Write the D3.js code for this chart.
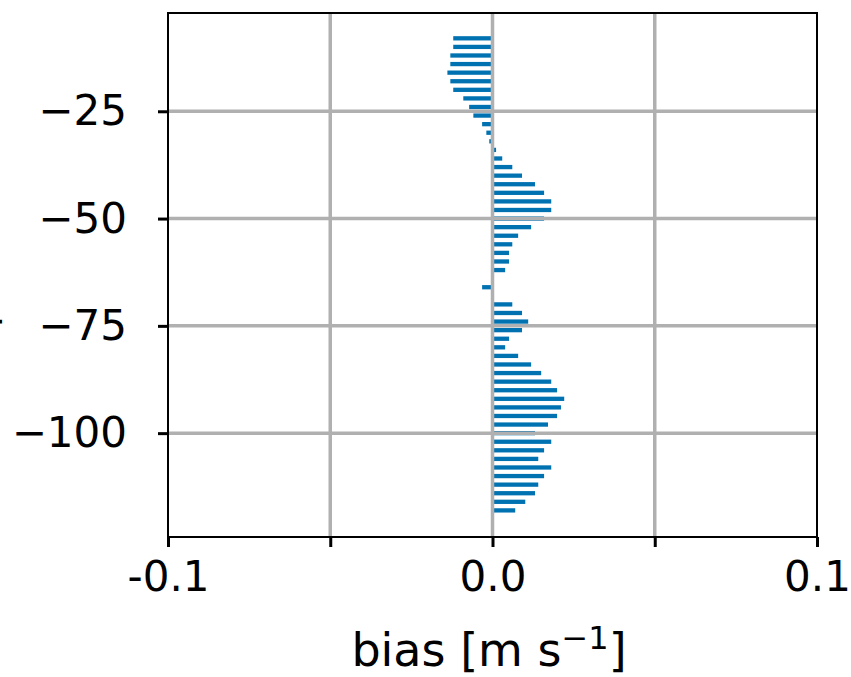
<!DOCTYPE html>
<html lang="en">
<head>
    <meta charset="UTF-8">
    <title>Bias profile</title>
    <script src="https://d3js.org/d3.v7.min.js"></script>
    <style>
        body { margin: 0; background: #fff; }
        svg { display: block; font-family: "DejaVu Sans", sans-serif; }
    </style>
</head>
<body>
    <script>
        // Data: depth levels (m) and bias (m s-1)
        const depths = [-8, -10, -12, -14, -16, -18, -20, -22, -24, -26, -28, -30, -32, -34,
            -36, -38, -40, -42, -44, -46, -48, -50, -52, -54, -56, -58, -60, -62, -64, -66,
            -68, -70, -72, -74, -76, -78, -80, -82, -84, -86, -88, -90, -92, -94, -96, -98,
            -100, -102, -104, -106, -108, -110, -112, -114, -116, -118];
        const bias = [-0.0121, -0.0121, -0.0130, -0.0130, -0.0139, -0.0130, -0.0121, -0.0090,
            -0.0072, -0.0059, -0.0032, -0.0019, -0.0010, 0.0011, 0.0030, 0.0061, 0.0091, 0.0131,
            0.0159, 0.0181, 0.0181, 0.0159, 0.0119, 0.0079, 0.0061, 0.0051, 0.0051, 0.0039, 0,
            -0.0032, 0, 0.0061, 0.0091, 0.0110, 0.0091, 0.0051, 0.0039, 0.0079, 0.0119, 0.0150,
            0.0181, 0.0199, 0.0221, 0.0211, 0.0199, 0.0171, 0.0131, 0.0181, 0.0159, 0.0141,
            0.0181, 0.0159, 0.0141, 0.0131, 0.0101, 0.0070];
        const xTicks = [-0.1, -0.05, 0, 0.05, 0.1];
        const xTickLabels = ["-0.1", "", "0.0", "", "0.1"];
        const yTicks = [-25, -50, -75, -100];

        const width = 851, height = 677;
        const plotL = 168, plotR = 817, plotT = 13, plotB = 537;
        const barH = 1; // bar thickness in metres

        const x = d3.scaleLinear().domain([-0.1, 0.1]).range([plotL, plotR]);
        const y = d3.scaleLinear().domain([-2.1, -124.2]).range([plotT, plotB]);

        const svg = d3.select("body").append("svg")
            .attr("width", width)
            .attr("height", height);

        // Bars
        svg.append("g")
            .selectAll("rect")
            .data(depths.map((d, i) => ({ depth: d, value: bias[i] })))
            .enter()
            .append("rect")
            .attr("x", d => x(Math.min(0, d.value)))
            .attr("width", d => Math.abs(x(d.value) - x(0)))
            .attr("y", d => y(d.depth + barH / 2))
            .attr("height", d => y(d.depth - barH / 2) - y(d.depth + barH / 2))
            .attr("fill", "#0072b2");

        // Grid lines (drawn over the bars, like matplotlib)
        const grid = svg.append("g").attr("stroke", "#b0b0b0").attr("stroke-width", 3.5);
        grid.selectAll(".gx")
            .data(xTicks.slice(1, -1))
            .enter().append("line")
            .attr("x1", d => x(d)).attr("x2", d => x(d))
            .attr("y1", plotT).attr("y2", plotB);
        grid.selectAll(".gy")
            .data(yTicks)
            .enter().append("line")
            .attr("x1", plotL).attr("x2", plotR)
            .attr("y1", d => y(d)).attr("y2", d => y(d));

        // Axes
        const xAxis = d3.axisBottom(x)
            .tickValues(xTicks)
            .tickFormat((d, i) => xTickLabels[i])
            .tickSizeInner(10).tickSizeOuter(0).tickPadding(14);
        const yAxis = d3.axisLeft(y)
            .tickValues(yTicks)
            .tickFormat(d => "\u2212" + Math.abs(d))
            .tickSizeInner(10).tickSizeOuter(0).tickPadding(31);

        const gx = svg.append("g")
            .attr("transform", `translate(0,${plotB})`)
            .call(xAxis);
        const gy = svg.append("g")
            .attr("transform", `translate(${plotL},0)`)
            .call(yAxis);

        [gx, gy].forEach(g => {
            g.select(".domain").remove();
            g.selectAll(".tick line").attr("stroke", "#000").attr("stroke-width", 3);
            g.selectAll(".tick text")
                .attr("fill", "#000")
                .style("font-family", "'DejaVu Sans', sans-serif")
                .style("font-size", "42px");
        });

        // Frame
        svg.append("rect")
            .attr("x", plotL).attr("y", plotT)
            .attr("width", plotR - plotL).attr("height", plotB - plotT)
            .attr("fill", "none")
            .attr("stroke", "#000")
            .attr("stroke-width", 2);

        // X label
        const xl = svg.append("text")
            .attr("x", 489)
            .attr("y", 666)
            .attr("text-anchor", "middle")
            .style("font-size", "46px")
            .attr("fill", "#000");
        xl.append("tspan").text("bias [m s");
        xl.append("tspan").attr("dy", -17).style("font-size", "32px").text("\u22121");
        xl.append("tspan").attr("dy", 17).text("]");

        // Y label (mostly outside the figure)
        svg.append("text")
            .attr("transform", `translate(-7,${(plotT + plotB) / 2}) rotate(-90)`)
            .attr("text-anchor", "middle")
            .style("font-size", "42px")
            .attr("fill", "#000")
            .text("depth [m]");
    </script>
</body>
</html>
